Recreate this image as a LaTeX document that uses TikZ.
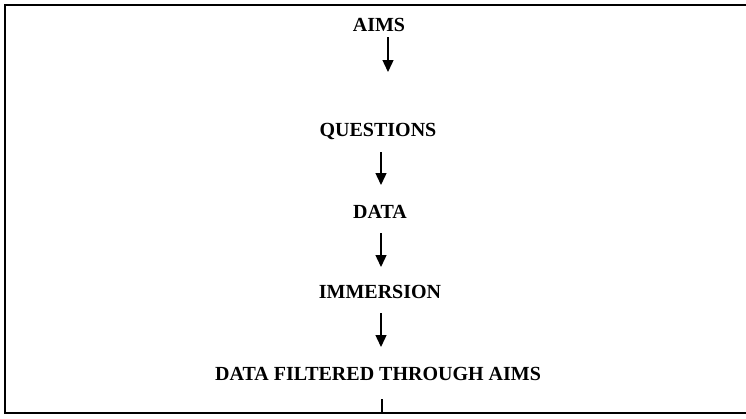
\documentclass[tikz,border=0pt]{standalone}
\usepackage{fontspec}
\setmainfont{Liberation Serif}
\usetikzlibrary{arrows.meta}
\begin{document}
\begin{tikzpicture}[x=1pt,y=-1pt,
  lbl/.style={anchor=base,inner sep=0pt,font=\fontsize{20}{24}\selectfont\bfseries},
  flow/.style={line width=1.4pt,-{Triangle[width=11pt,length=12pt]}},
  frame/.style={line width=2pt,line cap=rect}]
\useasboundingbox (0,0) rectangle (746,418);
% frame (open on the right)
\coordinate (ftr) at (746,4.5);
\coordinate (ftl) at (4.5,4.5);
\coordinate (fbl) at (4.5,413);
\coordinate (fbr) at (746,413);
\draw[frame] (ftr) -- (ftl) -- (fbl) -- (fbr);
% labels
\node[lbl] (aims) at (379,31) {AIMS};
\node[lbl] (questions) at (378,136) {QUESTIONS};
\node[lbl] (data) at (380,218) {DATA};
\node[lbl] (immersion) at (380,298) {IMMERSION};
\node[lbl] (filtered) at (378,380) {DATA FILTERED THROUGH AIMS};
% connector end points
\coordinate (a1s) at (388,37);  \coordinate (a1e) at (388,72);
\coordinate (a2s) at (381,152); \coordinate (a2e) at (381,185);
\coordinate (a3s) at (381,233); \coordinate (a3e) at (381,267);
\coordinate (a4s) at (381,313); \coordinate (a4e) at (381,347);
\coordinate (a5s) at (382,399); \coordinate (a5e) at (382,413);
\draw[flow] (a1s) -- (a1e);
\draw[flow] (a2s) -- (a2e);
\draw[flow] (a3s) -- (a3e);
\draw[flow] (a4s) -- (a4e);
\draw[line width=1.4pt] (a5s) -- (a5e);
\end{tikzpicture}
\end{document}
